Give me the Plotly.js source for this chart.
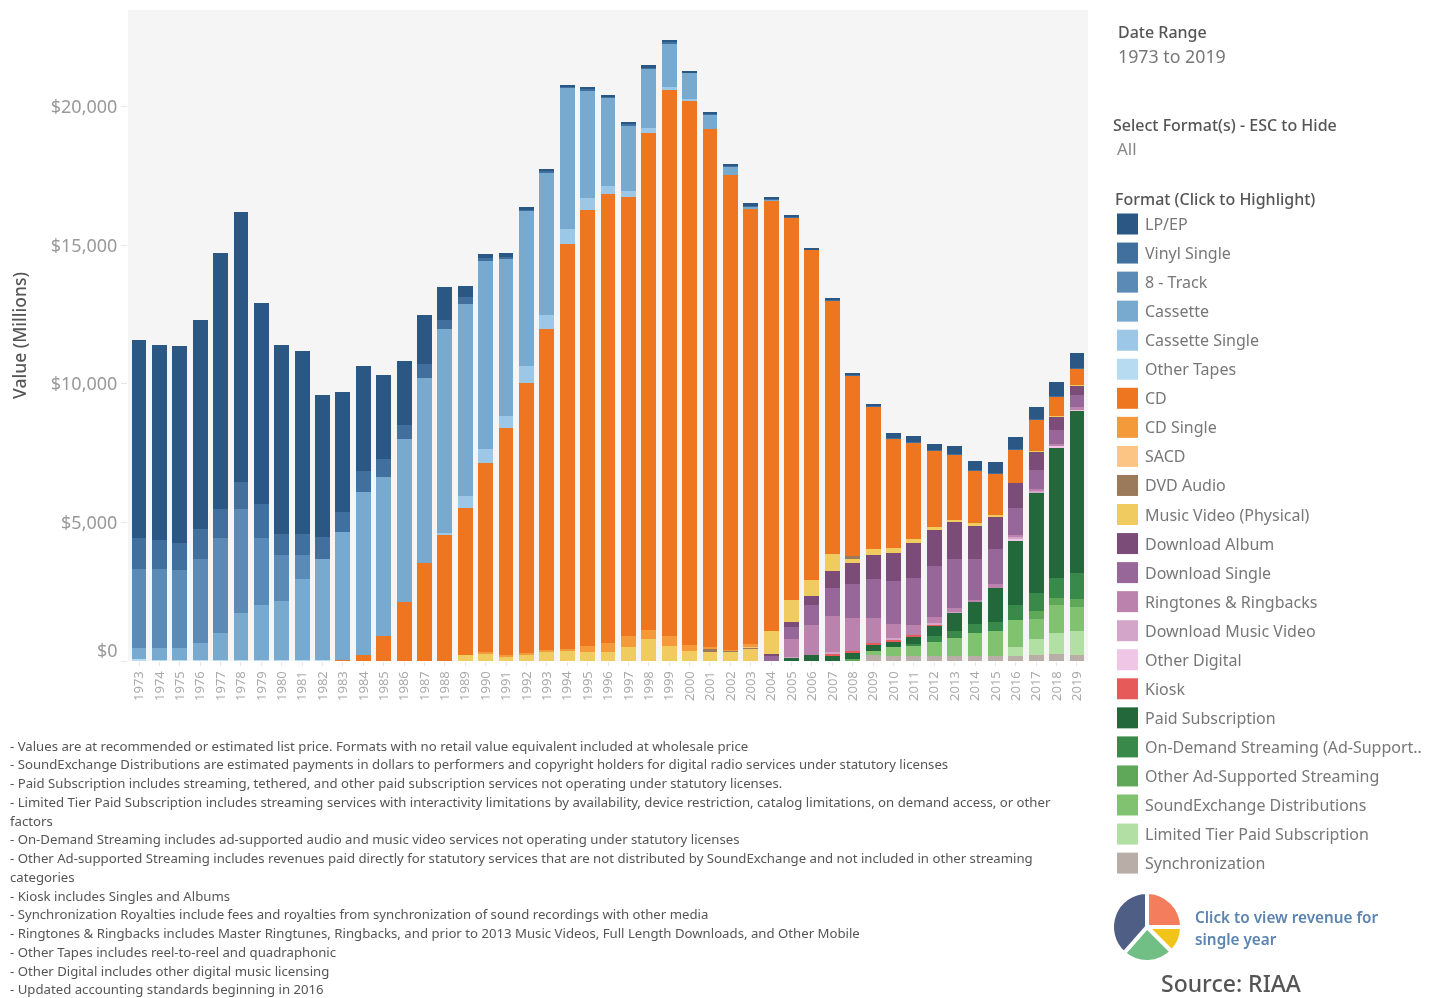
<!DOCTYPE html>
<html>
<head>
<meta charset="utf-8">
<script src="https://cdn.plot.ly/plotly-3.0.1.min.js"></script>
<style>html,body{margin:0;padding:0;background:#fff}#chart{width:1430px;height:998px;filter:blur(0.45px)}</style>
</head>
<body>
<div id="chart"></div>
<script>
const years = ["1973","1974","1975","1976","1977","1978","1979","1980","1981","1982","1983","1984","1985","1986","1987","1988","1989","1990","1991","1992","1993","1994","1995","1996","1997","1998","1999","2000","2001","2002","2003","2004","2005","2006","2007","2008","2009","2010","2011","2012","2013","2014","2015","2016","2017","2018","2019"];

const lp = [7173,7027,7088,7552,9248,9760,7235,6820,6600,5136,4343,3807,3025,2305,1769,1171,402,150,120,80,60,60,60,70,70,70,70,40,70,70,70,40,40,30,40,90,100,180,205,205,313,313,420,420,433,517,541];
const vinyl = [1098,1037,1000,1061,1061,976,1256,756,732,768,695,732,683,513,512,329,281,110,90,50,40,50,50,40,40,50,40,20,30,30,40,30,20,20,20,15,10,10,10,10,10,10,10,10,10,10,10];
const track8 = [2855,2855,2794,3050,3416,3745,2392,1647,878,0,0,0,0,0,0,0,0,0,0,0,0,0,0,0,0,0,0,0,0,0,0,0,0,0,0,0,0,0,0,0,0,0,0,0,0,0,0];
const cassette = [403,439,439,610,989,1721,2013,2148,2941,3673,4624,5880,5734,5868,6698,7382,6917,6787,5668,5596,5162,5090,3899,3177,2383,2166,1588,939,505,289,108,36,0,0,0,0,0,0,0,0,0,0,0,0,0,0,0];
const cassSingle = [0,0,0,0,0,0,0,0,0,0,0,0,0,0,0,60,427,505,433,614,505,542,433,289,217,180,108,72,0,0,0,0,0,0,0,0,0,0,0,0,0,0,0,0,0,0,0];
const otherTapes = [73,37,37,37,24,24,24,24,24,24,0,0,0,0,0,0,0,0,0,0,0,0,0,0,0,0,0,0,0,0,0,0,0,0,0,0,0,0,0,0,0,0,0,0,0,0,0];
const cd = [0,0,0,0,0,0,0,0,0,0,49,232,891,2135,3526,4551,5295,6823,8195,9747,11588,14620,15740,16209,15848,17942,19711,19638,18700,17148,15704,15559,13826,11913,9169,6532,5149,3970,3501,2767,2346,1901,1492,1203,1143,686,602];
const cdSingle = [0,0,0,0,0,0,0,0,0,0,0,0,0,0,0,0,0,36,30,72,60,72,204,325,409,325,361,217,84,48,84,0,0,0,0,0,0,0,0,0,0,0,0,0,0,0,0];
const sacd = [0,0,0,0,0,0,0,0,0,0,0,0,0,0,0,0,0,0,0,0,0,0,0,0,0,0,0,0,0,0,20,0,0,0,0,0,0,0,0,0,0,0,0,0,0,0,0];
const dvdAudio = [0,0,0,0,0,0,0,0,0,0,0,0,0,0,0,0,0,0,0,0,0,0,0,0,0,0,0,0,70,30,25,0,0,0,0,70,0,0,0,0,0,0,0,0,0,0,0];
const musicVideo = [0,0,0,0,0,0,0,0,0,0,0,0,0,0,0,0,232,276,180,216,336,372,336,336,492,780,540,372,360,336,468,840,794,565,601,180,192,156,132,132,72,96,48,12,10,10,24];
const dlAlbum = [0,0,0,0,0,0,0,0,0,0,0,0,0,0,0,0,0,0,0,0,0,0,0,0,0,0,0,0,0,0,0,40,180,337,626,746,878,1011,1263,1299,1359,1191,1191,914,698,505,325];
const dlSingle = [0,0,0,0,0,0,0,0,0,0,0,0,0,0,0,0,0,0,0,0,0,0,0,0,0,0,0,0,0,0,0,200,433,734,1011,1239,1420,1576,1708,1841,1744,1480,1251,950,674,517,445];
const ringtones = [0,0,0,0,0,0,0,0,0,0,0,0,0,0,0,0,0,0,0,0,0,0,0,0,0,0,0,0,0,0,0,0,626,1059,1299,1179,878,505,349,205,144,84,144,60,60,72,108];
const dlMusicVideo = [0,0,0,0,0,0,0,0,0,0,0,0,0,0,0,0,0,0,0,0,0,0,0,0,0,0,0,0,0,0,0,0,24,0,72,0,0,48,0,36,24,0,0,108,48,0,0];
const otherDigital = [0,0,0,0,0,0,0,0,0,0,0,0,0,0,0,0,0,0,0,0,0,0,0,0,0,0,0,0,0,0,0,0,0,0,0,0,0,0,0,0,0,0,0,30,0,24,24];
const kiosk = [0,0,0,0,0,0,0,0,0,0,0,0,0,0,0,0,0,0,0,0,0,0,0,0,0,0,0,0,0,0,0,0,0,0,48,84,84,84,36,48,12,0,0,0,0,0,0];
const paidSub = [0,0,0,0,0,0,0,0,0,0,0,0,0,0,0,0,0,0,0,0,0,0,0,0,0,0,0,0,0,0,0,0,132,229,205,205,205,192,289,373,662,806,1227,2346,3633,4728,5859];
const onDemand = [0,0,0,0,0,0,0,0,0,0,0,0,0,0,0,0,0,0,0,0,0,0,0,0,0,0,0,0,0,0,0,0,0,0,0,0,0,0,84,229,265,325,337,529,650,722,950];
const otherAd = [0,0,0,0,0,0,0,0,0,0,0,0,0,0,0,0,0,0,0,0,0,0,0,0,0,0,0,0,0,0,0,0,0,0,0,72,0,0,0,0,0,0,0,0,313,253,277];
const soundEx = [0,0,0,0,0,0,0,0,0,0,0,0,0,0,0,0,0,0,0,0,0,0,0,0,0,0,0,0,0,0,0,0,0,0,0,0,156,325,361,517,650,830,914,986,698,1023,878];
const limitedTier = [0,0,0,0,0,0,0,0,0,0,0,0,0,0,0,0,0,0,0,0,0,0,0,0,0,0,0,0,0,0,0,0,0,0,0,0,0,0,0,0,0,0,0,337,577,734,842];
const sync = [0,0,0,0,0,0,0,0,0,0,0,0,0,0,0,0,0,0,0,0,0,0,0,0,0,0,0,0,0,0,0,0,0,0,0,0,217,168,168,168,168,168,168,168,229,265,229];

const yTicks = [0,5000,10000,15000,20000];
const yTickText = ["","$5,000","$10,000","$15,000","$20,000"];

const pieLabels = ["A","B","C","D"];
const pieValues = [25,12.5,24,38.5];
const pieColors = ["#f47d5e","#f2c419","#72bf85","#4f5e85"];

const formats = [
  ["LP/EP", lp, "#2a5783"],
  ["Vinyl Single", vinyl, "#41709f"],
  ["8 - Track", track8, "#5b8ab6"],
  ["Cassette", cassette, "#78a9cf"],
  ["Cassette Single", cassSingle, "#9cc7e6"],
  ["Other Tapes", otherTapes, "#b7dbf0"],
  ["CD", cd, "#ef7620"],
  ["CD Single", cdSingle, "#f59a3a"],
  ["SACD", sacd, "#fdc583"],
  ["DVD Audio", dvdAudio, "#9a7a5b"],
  ["Music Video (Physical)", musicVideo, "#f0cb5f"],
  ["Download Album", dlAlbum, "#7b4c78"],
  ["Download Single", dlSingle, "#98679a"],
  ["Ringtones & Ringbacks", ringtones, "#bb82ae"],
  ["Download Music Video", dlMusicVideo, "#d3a5c9"],
  ["Other Digital", otherDigital, "#efc6e5"],
  ["Kiosk", kiosk, "#e65a5a"],
  ["Paid Subscription", paidSub, "#23683b"],
  ["On-Demand Streaming (Ad-Support..", onDemand, "#39894a"],
  ["Other Ad-Supported Streaming", otherAd, "#5fa85a"],
  ["SoundExchange Distributions", soundEx, "#80c26f"],
  ["Limited Tier Paid Subscription", limitedTier, "#b2dfa3"],
  ["Synchronization", sync, "#b9aea7"]
];

const notes = [
  "- Values are at recommended or estimated list price. Formats with no retail value equivalent included at wholesale price",
  "- SoundExchange Distributions are estimated payments in dollars to performers and copyright holders for digital radio services under statutory licenses",
  "- Paid Subscription includes streaming, tethered, and other paid subscription services not operating under statutory licenses.",
  "- Limited Tier Paid Subscription includes streaming services with interactivity limitations by availability, device restriction, catalog limitations, on demand access, or other",
  "factors",
  "- On-Demand Streaming includes ad-supported audio and music video services not operating under statutory licenses",
  "- Other Ad-supported Streaming includes revenues paid directly for statutory services that are not distributed by SoundExchange and not included in other streaming",
  "categories",
  "- Kiosk includes Singles and Albums",
  "- Synchronization Royalties include fees and royalties from synchronization of sound recordings with other media",
  "- Ringtones & Ringbacks includes Master Ringtunes, Ringbacks, and prior to 2013 Music Videos, Full Length Downloads, and Other Mobile",
  "- Other Tapes includes reel-to-reel and quadraphonic",
  "- Other Digital includes other digital music licensing",
  "- Updated accounting standards beginning in 2016"
];

const W = 1430, H = 998;
const FONT = "Noto Sans, Open Sans, sans-serif";
const px = x => x / W;
const py = y => 1 - y / H;

const traces = formats.slice().reverse().map(f => ({
  type: "bar", name: f[0], x: years, y: f[1],
  marker: {color: f[2], line: {width: 0}}, showlegend: false
}));
traces.push({
  type: "pie", labels: pieLabels, values: pieValues, sort: false, direction: "clockwise", rotation: 0,
  marker: {colors: pieColors, line: {color: "#ffffff", width: 4}},
  textinfo: "none", hoverinfo: "skip", showlegend: false,
  domain: {x: [px(1112), px(1182)], y: [py(962), py(892)]}
});

function label(text, x, y, size, color, weight) {
  const font = {family: FONT, size, color};
  if (weight) font.weight = weight;
  return {
    text, xref: "paper", yref: "paper", x: px(x - 2), y: py(y), xanchor: "left", yanchor: "middle",
    showarrow: false, align: "left", font
  };
}

const annotations = [
  label("Date Range", 1118, 32, 16, "#555555", 500),
  label("1973 to 2019", 1118, 56, 17.8, "#777777"),
  label("Select Format(s) - ESC to Hide", 1113, 125, 16, "#555555", 500),
  label("All", 1117, 149, 17, "#888888"),
  label("Format (Click to Highlight)", 1115, 199, 16, "#555555", 500),
  label("Click to view revenue for", 1195, 917, 15.3, "#5b84b1", 600),
  label("single year", 1195, 939, 15.3, "#5b84b1", 600),
  label("Source: RIAA", 1161, 982.5, 23, "#555555", 500),
  label("$0", 97, 650, 18, "#999999")
];
const shapes = [];
formats.forEach((f, i) => {
  const yc = 224 + 29.05 * i;
  shapes.push({type: "rect", xref: "paper", yref: "paper", x0: px(1117), x1: px(1138), y0: py(yc - 10.5), y1: py(yc + 10.5), fillcolor: f[2], line: {width: 0}});
  annotations.push(label(f[0], 1145, yc, 16, "#777777"));
});
notes.forEach((t, i) => annotations.push(label(t, 10, 745.5 + 18.75 * i, 13.2, "#555555")));

const layout = {
  width: W, height: H, autosize: false,
  margin: {l: 0, r: 0, t: 0, b: 0},
  paper_bgcolor: "#ffffff", plot_bgcolor: "#f5f5f5",
  barmode: "stack", bargap: 0.27,
  showlegend: false,
  font: {family: FONT},
  xaxis: {
    domain: [px(128), px(1088)], type: "category", range: [-0.54, 46.54], fixedrange: true,
    tickangle: -90, tickfont: {family: FONT, size: 13, color: "#aaaaaa"},
    ticks: "outside", ticklen: 4, tickcolor: "#e6e6e6", showgrid: false, zeroline: false, showline: false
  },
  yaxis: {
    domain: [py(661), py(10)], range: [0, 23501], fixedrange: true,
    tickvals: yTicks, ticktext: yTickText, tickfont: {family: FONT, size: 18, color: "#999999"},
    ticks: "outside", ticklen: 6, tickcolor: "#e6e6e6", showgrid: false, zeroline: false, showline: false,
    title: {text: "Value (Millions)", standoff: 19, font: {family: FONT, size: 17.5, color: "#555555", weight: 500}}
  },
  annotations, shapes
};

Plotly.newPlot("chart", traces, layout, {displayModeBar: false, responsive: false});
</script>
</body>
</html>
